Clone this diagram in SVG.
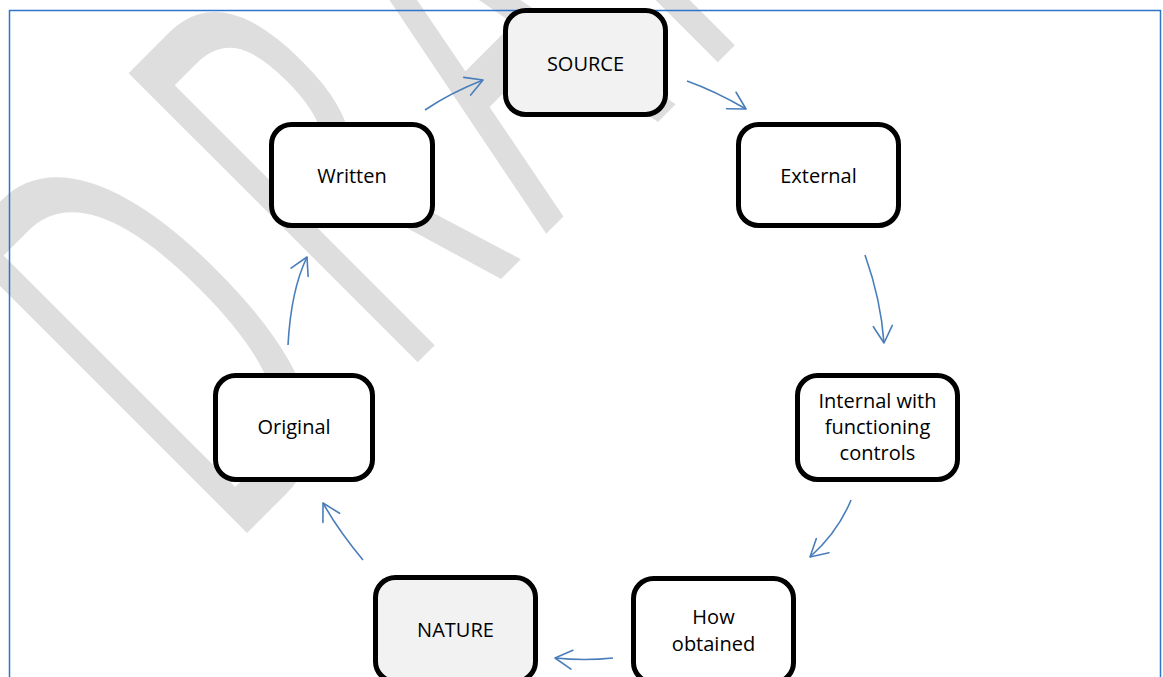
<svg xmlns="http://www.w3.org/2000/svg" width="1163" height="677" viewBox="0 0 1163 677">
  <style>
    .box { stroke: #000; stroke-width: 5; fill: #fff; }
    .box.hl { fill: #f2f2f2; }
    .lbl { font-family: "Open Sans", "Noto Sans", "Liberation Sans", sans-serif; font-size: 20px; fill: #000; text-anchor: middle; }
    .wire { fill: none; stroke: #4a7ebb; stroke-width: 1.6; marker-end: url(#head); }
    .wm { font-family: "Open Sans", "Noto Sans", "Liberation Sans", sans-serif; fill: #dedede; }
  </style>
  <defs>
    <marker id="head" markerUnits="userSpaceOnUse" markerWidth="24" markerHeight="24" viewBox="-20 -12 24 24" refX="0" refY="0" orient="auto">
      <path d="M -17,-9.5 L 0,0 L -17,9.5" fill="none" stroke="#4a7ebb" stroke-width="1.6" stroke-linecap="round" stroke-linejoin="round"/>
    </marker>
  </defs>

  <rect width="1163" height="677" fill="#fff"/>

  <!-- watermark: tall, diagonal, light grey -->
  <text class="wm" font-size="290" letter-spacing="31" transform="translate(227,553) rotate(-45) scale(1,1.975)">DRAFT</text>

  <!-- page border -->
  <rect x="9.5" y="10.5" width="1151" height="700" fill="none" stroke="#2e75c8" stroke-width="1.5"/>

  <g id="connectors">
    <path class="wire" d="M 425,110 Q 450,93 483,80"/>
    <path class="wire" d="M 687,81 Q 715,91 746,109"/>
    <path class="wire" d="M 865,255 Q 881,300 884,343"/>
    <path class="wire" d="M 851,500 Q 838,532 810,557"/>
    <path class="wire" d="M 613,658 Q 585,661 555,658"/>
    <path class="wire" d="M 363,560 Q 338,530 323,503"/>
    <path class="wire" d="M 288,345 Q 291,290 307,257"/>
  </g>

  <g id="source">
    <rect class="box hl" x="505.5" y="10.5" width="160" height="104" rx="20"/>
    <text class="lbl" x="585.5" y="70.5">SOURCE</text>
  </g>
  <g id="external">
    <rect class="box" x="738.5" y="124.5" width="160" height="101" rx="20"/>
    <text class="lbl" x="818.5" y="182.5">External</text>
  </g>
  <g id="internal">
    <rect class="box" x="797.5" y="375.5" width="160" height="104" rx="20"/>
    <text class="lbl" x="877.5" y="408">Internal with</text>
    <text class="lbl" x="877.5" y="434">functioning</text>
    <text class="lbl" x="877.5" y="460">controls</text>
  </g>
  <g id="how-obtained">
    <rect class="box" x="633.5" y="578.5" width="160" height="104" rx="20"/>
    <text class="lbl" x="713.5" y="624">How</text>
    <text class="lbl" x="713.5" y="651">obtained</text>
  </g>
  <g id="nature">
    <rect class="box hl" x="375.5" y="577.5" width="160" height="104" rx="20"/>
    <text class="lbl" x="455.5" y="637">NATURE</text>
  </g>
  <g id="original">
    <rect class="box" x="215.5" y="375.5" width="157" height="104" rx="20"/>
    <text class="lbl" x="294" y="434">Original</text>
  </g>
  <g id="written">
    <rect class="box" x="271.5" y="124.5" width="161" height="101" rx="20"/>
    <text class="lbl" x="352" y="182.5">Written</text>
  </g>
</svg>
